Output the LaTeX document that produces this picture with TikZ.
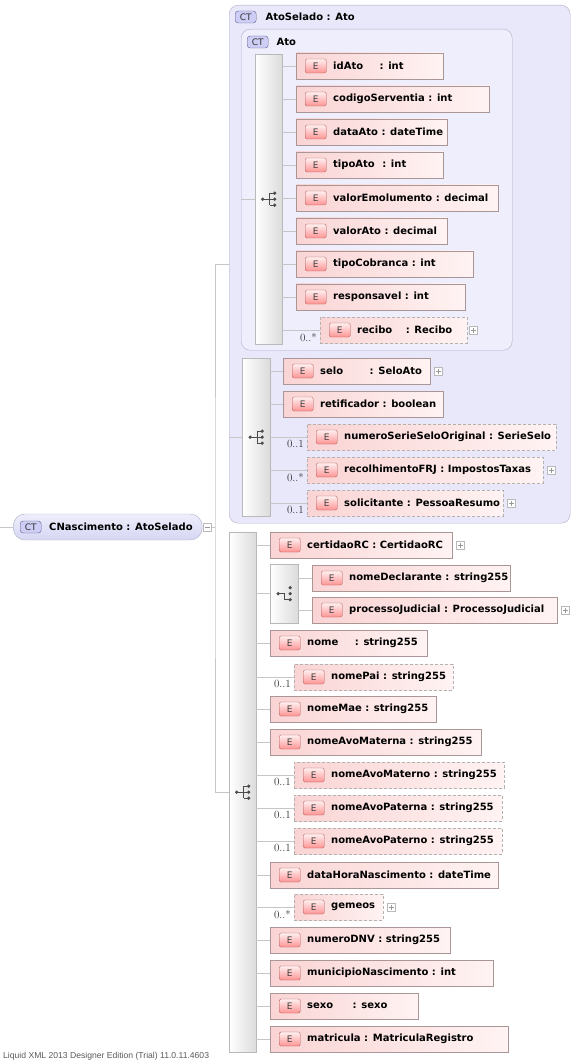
\documentclass[tikz,border=0pt]{standalone}
\usepackage{fontspec}
\newfontfamily\vfont{DejaVu Sans}
\newfontfamily\lfont{Liberation Sans}
\usetikzlibrary{positioning, calc}

\definecolor{ctfill}{RGB}{232,232,250}
\definecolor{ctfillin}{RGB}{238,238,252}
\definecolor{ctline}{RGB}{175,175,200}
\definecolor{ctbadgefill}{RGB}{205,205,245}
\definecolor{ctdark}{RGB}{95,95,140}
\definecolor{cnbot}{RGB}{214,214,244}
\definecolor{epink}{RGB}{250,212,212}
\definecolor{epinklt}{RGB}{255,243,243}
\definecolor{elemline}{RGB}{170,150,150}

\begin{document}
\begin{tikzpicture}[
    x=1pt, y=-1pt,
    conn/.style={draw=gray!45, line width=0.6pt},
    ctbox/.style={rectangle, draw=ctline, fill=ctfill, rounded corners=9pt, anchor=north west, inner sep=0pt},
    ctbadge/.style={rectangle, draw=ctdark, fill=ctbadgefill, rounded corners=3pt, minimum width=21pt, minimum height=12pt, inner sep=0pt, text=black!80, font=\vfont\fontsize{9}{10}\selectfont},
    ctname/.style={inner sep=0pt, anchor=west, font=\vfont\bfseries\fontsize{10}{12}\selectfont},
    cnode/.style={rectangle, draw=ctline, top color=ctfillin, bottom color=cnbot, rounded corners=12pt, minimum height=26pt, inner sep=0pt, anchor=west, font=\vfont\bfseries\fontsize{10}{12}\selectfont, execute at begin node={\hbox to 189pt\bgroup\hskip36pt}, execute at end node={\hfil\egroup}, label={[ctbadge, anchor=west, xshift=7pt]west:CT}},
    seqbar/.style={rectangle, draw=gray!55, left color=white, right color=gray!28, anchor=north west, minimum width=27pt, inner sep=0pt},
    elem/.style={rectangle, draw=elemline, left color=epink, right color=epinklt, minimum height=26pt, inner sep=0pt, anchor=west, font=\vfont\bfseries\fontsize{10}{12}\selectfont, execute at begin node={\hbox to #1\bgroup\hskip37pt}, execute at end node={\hfil\egroup}, label={[ebadge]west:E}},
    opt/.style={elem=#1, draw=gray!60, dash pattern=on 3pt off 2pt},
    ebadge/.style={rectangle, draw=red!35!gray, rounded corners=1.5pt, top color=red!6, bottom color=red!42, minimum width=21pt, minimum height=14pt, inner sep=0pt, anchor=west, xshift=9pt, text=black!75, font=\vfont\fontsize{9}{10}\selectfont},
    mult/.style={inner sep=0pt, anchor=east, text=black!80, font=\fontsize{11}{12}\selectfont},
    plusbox/.style={rectangle, draw=gray!55, fill=white, minimum size=8pt, inner sep=0pt, path picture={\draw[gray!80] ([xshift=1.5pt]path picture bounding box.west) -- ([xshift=-1.5pt]path picture bounding box.east) ([yshift=1.5pt]path picture bounding box.south) -- ([yshift=-1.5pt]path picture bounding box.north);}},
    minusbox/.style={rectangle, draw=gray!55, fill=white, minimum size=8pt, inner sep=0pt, path picture={\draw[gray!80] ([xshift=1.5pt]path picture bounding box.west) -- ([xshift=-1.5pt]path picture bounding box.east);}},
    icon/.style={draw=black!70, line width=0.9pt},
    seqicon/.pic={
        \draw[icon] (-6,0) -- (1,0) (1,-6) -- (1,6) (1,-6) -- (6,-6) (1,0) -- (6,0) (1,6) -- (6,6);
        \fill[black!70] (-6,0) circle (1.8pt) (6,-6) circle (1.8pt) (6,0) circle (1.8pt) (6,6) circle (1.8pt);
    },
    choiceicon/.pic={
        \draw[icon] (-6,0) -- (0,0) -- (0,6) -- (6,6);
        \fill[black!70] (-6,0) circle (1.8pt) (6,-6) circle (1.8pt) (6,0) circle (1.8pt) (6,6) circle (1.8pt);
    },
    footer/.style={inner sep=0pt, anchor=west, text=black!65, font=\lfont\fontsize{8.6}{10}\selectfont},
]

\useasboundingbox (0,0) rectangle (583,1064);

% ============ Containers ============
\node[ctbox, minimum width=341pt, minimum height=518pt] (atoSelado) at (229,5) {};
\node[ctbadge, anchor=west] (atoSelBadge) at (235,17) {CT};
\node[ctname, right=9pt of atoSelBadge] (atoSelName) {AtoSelado : Ato};

\node[ctbox, fill=ctfillin, minimum width=271pt, minimum height=321pt] (ato) at (241,29) {};
\node[ctbadge, anchor=west] (atoBadge) at (247,42) {CT};
\node[ctname, right=8pt of atoBadge] (atoName) {Ato};

% Root type
\coordinate (inlet) at (0,527);
\node[cnode] (cn) at (13,527) {CNascimento : AtoSelado};
\node[minusbox, right=1pt of cn] (cnMinus) {};
\coordinate (split) at (215,527);

% Sequence bars
\node[seqbar, minimum height=290pt] (atoBar) at (255,54) {};
\node[seqbar, minimum width=28pt, minimum height=158pt] (selBar) at (242,358) {};
\node[seqbar, minimum height=520pt] (mainBar) at (229,532) {};
\node[seqbar, minimum width=28pt, minimum height=59pt] (choiceBar) at (270,564) {};

\pic at (atoBar.center) {seqicon};
\pic at (selBar.center) {seqicon};
\pic at (mainBar.center) {seqicon};
\pic at (choiceBar.center) {choiceicon};

% ============ Ato elements ============
\node[elem=147pt] (idAto) at (296,66) {idAto\hspace{13pt} : int};
\node[elem=193pt] (codigoServentia) at (296,99) {codigoServentia : int};
\node[elem=151pt] (dataAto) at (296,132) {dataAto : dateTime};
\node[elem=147pt] (tipoAto) at (296,165) {tipoAto\hspace{4pt} : int};
\node[elem=202pt] (valorEmolumento) at (296,198) {valorEmolumento : decimal};
\node[elem=151pt] (valorAto) at (296,231) {valorAto : decimal};
\node[elem=177pt] (tipoCobranca) at (296,264) {tipoCobranca : int};
\node[elem=169pt] (responsavel) at (296,297) {responsavel : int};
\node[opt=147pt] (recibo) at (320,330) {recibo\hspace{10pt} : Recibo};
\node[plusbox, right=2pt of recibo] (reciboPlus) {};
\node[mult] (reciboMult) at ([xshift=-3pt, yshift=-7pt]recibo.west) {0..*};

% ============ AtoSelado elements ============
\node[elem=147pt] (selo) at (283,371) {selo\hspace{23pt} : SeloAto};
\node[plusbox, right=4pt of selo] (seloPlus) {};
\node[elem=160pt] (retificador) at (283,404) {retificador : boolean};
\node[opt=249pt] (numeroSerie) at (307,437) {numeroSerieSeloOriginal : SerieSelo};
\node[mult] (numeroSerieMult) at ([xshift=-3pt, yshift=-7pt]numeroSerie.west) {0..1};
\node[opt=236pt] (recolhimento) at (307,470) {recolhimentoFRJ : ImpostosTaxas};
\node[plusbox, right=4pt of recolhimento] (recolhimentoPlus) {};
\node[mult] (recolhimentoMult) at ([xshift=-3pt, yshift=-7pt]recolhimento.west) {0..*};
\node[opt=196pt] (solicitante) at (307,503) {solicitante : PessoaResumo};
\node[plusbox, right=4pt of solicitante] (solicitantePlus) {};
\node[mult] (solicitanteMult) at ([xshift=-3pt, yshift=-7pt]solicitante.west) {0..1};

% ============ CNascimento elements ============
\node[elem=182pt] (certidaoRC) at (270,545) {certidaoRC : CertidaoRC};
\node[plusbox, right=4pt of certidaoRC] (certidaoPlus) {};
\node[elem=198pt] (nomeDeclarante) at (312,578) {nomeDeclarante : string255};
\node[elem=245pt] (processoJudicial) at (312,610) {processoJudicial : ProcessoJudicial};
\node[plusbox, right=4pt of processoJudicial] (processoPlus) {};
\node[elem=157pt] (nome) at (270,643) {nome\hspace{13pt} : string255};
\node[opt=159pt] (nomePai) at (294,677) {nomePai : string255};
\node[mult] (nomePaiMult) at ([xshift=-3pt, yshift=-7pt]nomePai.west) {0..1};
\node[elem=166pt] (nomeMae) at (270,709) {nomeMae : string255};
\node[elem=211pt] (nomeAvoMaterna) at (270,742) {nomeAvoMaterna : string255};
\node[opt=210pt] (nomeAvoMaterno) at (294,775) {nomeAvoMaterno : string255};
\node[mult] (nomeAvoMaternoMult) at ([xshift=-3pt, yshift=-7pt]nomeAvoMaterno.west) {0..1};
\node[opt=208pt] (nomeAvoPaterna) at (294,808) {nomeAvoPaterna : string255};
\node[mult] (nomeAvoPaternaMult) at ([xshift=-3pt, yshift=-7pt]nomeAvoPaterna.west) {0..1};
\node[opt=208pt] (nomeAvoPaterno) at (294,841) {nomeAvoPaterno : string255};
\node[mult] (nomeAvoPaternoMult) at ([xshift=-3pt, yshift=-7pt]nomeAvoPaterno.west) {0..1};
\node[elem=228pt] (dataHora) at (270,875) {dataHoraNascimento : dateTime};
\node[opt=89pt] (gemeos) at (294,907) {gemeos};
\node[plusbox, right=4pt of gemeos] (gemeosPlus) {};
\node[mult] (gemeosMult) at ([xshift=-3pt, yshift=-7pt]gemeos.west) {0..*};
\node[elem=180pt] (numeroDNV) at (270,940) {numeroDNV : string255};
\node[elem=223pt] (municipio) at (270,973) {municipioNascimento : int};
\node[elem=148pt] (sexo) at (270,1006) {sexo\hspace{16pt} : sexo};
\node[elem=238pt] (matricula) at (270,1039) {matricula : MatriculaRegistro};

% ============ Connectors ============
\draw[conn] (inlet) -- (cn.west);
\draw[conn] (cnMinus.east) -- (split);
\draw[conn] (atoSelado.west) -| (split) |- (mainBar.west);
\draw[conn] (ato.west |- atoBar.west) -- (atoBar.west);
\draw[conn] (atoSelado.west |- selBar.west) -- (selBar.west);
\draw[conn] (mainBar.east |- choiceBar.west) -- (choiceBar.west);

\draw[conn] (atoBar.east |- idAto.west) -- (idAto.west);
\draw[conn] (atoBar.east |- codigoServentia.west) -- (codigoServentia.west);
\draw[conn] (atoBar.east |- dataAto.west) -- (dataAto.west);
\draw[conn] (atoBar.east |- tipoAto.west) -- (tipoAto.west);
\draw[conn] (atoBar.east |- valorEmolumento.west) -- (valorEmolumento.west);
\draw[conn] (atoBar.east |- valorAto.west) -- (valorAto.west);
\draw[conn] (atoBar.east |- tipoCobranca.west) -- (tipoCobranca.west);
\draw[conn] (atoBar.east |- responsavel.west) -- (responsavel.west);
\draw[conn] (atoBar.east |- recibo.west) -- (recibo.west);

\draw[conn] (selBar.east |- selo.west) -- (selo.west);
\draw[conn] (selBar.east |- retificador.west) -- (retificador.west);
\draw[conn] (selBar.east |- numeroSerie.west) -- (numeroSerie.west);
\draw[conn] (selBar.east |- recolhimento.west) -- (recolhimento.west);
\draw[conn] (selBar.east |- solicitante.west) -- (solicitante.west);

\draw[conn] (choiceBar.east |- nomeDeclarante.west) -- (nomeDeclarante.west);
\draw[conn] (choiceBar.east |- processoJudicial.west) -- (processoJudicial.west);

\draw[conn] (mainBar.east |- certidaoRC.west) -- (certidaoRC.west);
\draw[conn] (mainBar.east |- nome.west) -- (nome.west);
\draw[conn] (mainBar.east |- nomePai.west) -- (nomePai.west);
\draw[conn] (mainBar.east |- nomeMae.west) -- (nomeMae.west);
\draw[conn] (mainBar.east |- nomeAvoMaterna.west) -- (nomeAvoMaterna.west);
\draw[conn] (mainBar.east |- nomeAvoMaterno.west) -- (nomeAvoMaterno.west);
\draw[conn] (mainBar.east |- nomeAvoPaterna.west) -- (nomeAvoPaterna.west);
\draw[conn] (mainBar.east |- nomeAvoPaterno.west) -- (nomeAvoPaterno.west);
\draw[conn] (mainBar.east |- dataHora.west) -- (dataHora.west);
\draw[conn] (mainBar.east |- gemeos.west) -- (gemeos.west);
\draw[conn] (mainBar.east |- numeroDNV.west) -- (numeroDNV.west);
\draw[conn] (mainBar.east |- municipio.west) -- (municipio.west);
\draw[conn] (mainBar.east |- sexo.west) -- (sexo.west);
\draw[conn] (mainBar.east |- matricula.west) -- (matricula.west);

% Footer
\node[footer] (credit) at (3,1056) {Liquid XML 2013 Designer Edition (Trial) 11.0.11.4603};

\end{tikzpicture}
\end{document}
